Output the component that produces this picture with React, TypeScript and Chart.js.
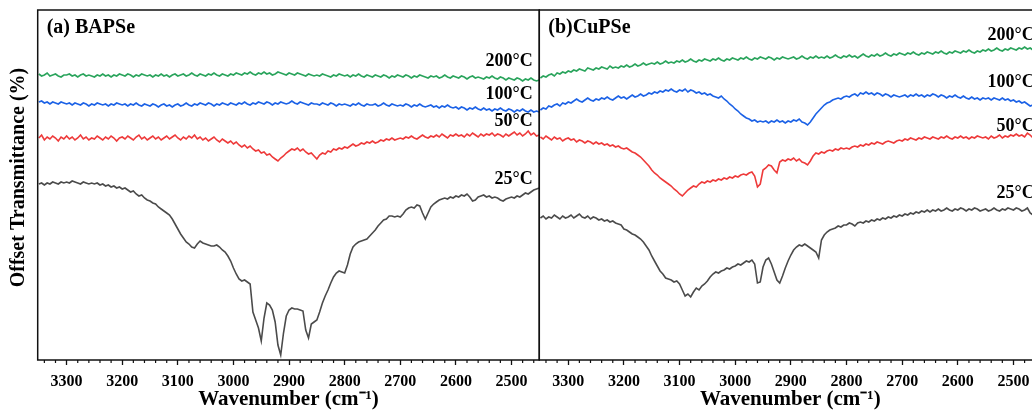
import React, { useEffect, useRef } from "react";
import { Chart, registerables } from "chart.js";

Chart.register(...registerables);

const FONT = "'Liberation Serif', 'Times New Roman', serif";

// Wavenumber grid (cm^-1), shared by every spectrum
const WAVENUMBERS = [
  3350, 3345, 3340, 3335, 3330, 3325, 3320, 3315, 3310, 3305,
  3300, 3295, 3290, 3285, 3280, 3275, 3270, 3265, 3260, 3255,
  3250, 3245, 3240, 3235, 3230, 3225, 3220, 3215, 3210, 3205,
  3200, 3195, 3190, 3185, 3180, 3175, 3170, 3165, 3160, 3155,
  3150, 3145, 3140, 3135, 3130, 3125, 3120, 3115, 3110, 3105,
  3100, 3095, 3090, 3085, 3080, 3075, 3070, 3065, 3060, 3055,
  3050, 3045, 3040, 3035, 3030, 3025, 3020, 3015, 3010, 3005,
  3000, 2995, 2990, 2985, 2980, 2975, 2970, 2965, 2960, 2955,
  2950, 2945, 2940, 2935, 2930, 2925, 2920, 2915, 2910, 2905,
  2900, 2895, 2890, 2885, 2880, 2875, 2870, 2865, 2860, 2855,
  2850, 2845, 2840, 2835, 2830, 2825, 2820, 2815, 2810, 2805,
  2800, 2795, 2790, 2785, 2780, 2775, 2770, 2765, 2760, 2755,
  2750, 2745, 2740, 2735, 2730, 2725, 2720, 2715, 2710, 2705,
  2700, 2695, 2690, 2685, 2680, 2675, 2670, 2665, 2660, 2655,
  2650, 2645, 2640, 2635, 2630, 2625, 2620, 2615, 2610, 2605,
  2600, 2595, 2590, 2585, 2580, 2575, 2570, 2565, 2560, 2555,
  2550, 2545, 2540, 2535, 2530, 2525, 2520, 2515, 2510, 2505,
  2500, 2495, 2490, 2485, 2480, 2475, 2470, 2465, 2460, 2455,
  2450,
];

const X_TICKS = [3300, 3200, 3100, 3000, 2900, 2800, 2700, 2600, 2500];

// (a) BAPSe — offset transmittance (a.u.)
const BAPSE_200 = [
  286, 284, 285, 287, 284, 285, 286, 284, 283, 285,
  285, 286, 284, 285, 283, 285, 286, 284, 285, 284,
  283, 285, 284, 286, 284, 285, 283, 285, 284, 286,
  285, 284, 286, 285, 283, 285, 284, 286, 285, 284,
  285, 283, 285, 284, 286, 284, 285, 283, 285, 286,
  284, 285, 286, 284, 285, 287, 285, 284, 286, 285,
  284, 286, 285, 287, 285, 284, 286, 285, 284, 286,
  285, 287, 286, 285, 287, 286, 288, 286, 285, 287,
  286, 288, 286, 287, 285, 286, 288, 287, 286, 285,
  287, 286, 285, 287, 286, 285, 284, 286, 285, 284,
  285, 284, 286, 285, 284, 283, 285, 284, 286, 285,
  284, 285, 283, 285, 284, 286, 284, 283, 285, 284,
  283, 285, 284, 283, 285, 284, 282, 284, 283, 285,
  284, 283, 285, 284, 282, 284, 283, 285, 284, 283,
  282, 284, 283, 284, 282, 283, 285, 283, 282, 284,
  283, 282, 284, 283, 281, 283, 284, 282, 283, 282,
  281, 283, 282, 284, 282, 281, 283, 282, 280, 282,
  281, 280, 282, 281, 279, 281, 280, 282, 280, 279,
  280,
];
const BAPSE_100 = [
  258, 259, 257, 258, 256, 258, 257, 256, 258, 257,
  256, 257, 255, 257, 256, 255, 257, 256, 254, 256,
  255, 257, 256, 255, 256, 254, 256, 255, 257, 256,
  255, 256, 254, 256, 255, 257, 255, 254, 256, 255,
  254, 256, 255, 253, 255, 256, 254, 255, 253, 255,
  256, 254, 255, 257, 255, 254, 256, 255, 257, 256,
  255, 257, 256, 254, 256, 255, 257, 256, 255, 257,
  256, 255, 257, 256, 258, 256, 255, 257, 256, 258,
  257, 256, 258, 257, 255, 257, 256, 258, 257, 256,
  257, 259, 257, 256, 258, 257, 256, 255, 257, 256,
  256, 255, 257, 256, 255, 257, 256, 254, 256, 255,
  256, 255, 254, 256, 255, 257, 255, 254, 256, 255,
  255, 256, 254, 255, 257, 255, 254, 256, 255, 254,
  255, 254, 256, 255, 253, 255, 254, 256, 254, 253,
  254, 255, 253, 254, 252, 254, 253, 255, 253, 252,
  253, 251, 253, 252, 250, 252, 251, 253, 251, 250,
  252, 250, 251, 249, 251, 250, 252, 250, 249, 251,
  250, 248, 250, 249, 251, 249, 248, 250, 248, 249,
  248,
];
const BAPSE_50 = [
  222, 225, 220, 223, 221, 224, 222, 219, 223, 221,
  224, 221, 223, 220, 222, 225, 221, 223, 220, 222,
  221, 224, 222, 220, 223, 221, 224, 222, 219, 222,
  223, 221, 224, 222, 220, 223, 225, 221, 223, 220,
  222, 224, 221, 223, 220, 222, 224, 221, 223, 225,
  222, 220, 223, 221, 224, 222, 225, 221, 223, 220,
  222, 219, 221, 223, 220, 218, 221, 219, 217, 219,
  216, 218, 215, 213, 215, 212, 214, 211, 209, 210,
  207, 208, 205, 206, 203, 201, 199, 202, 204, 207,
  209, 211, 210, 212, 209, 211, 208, 206, 207, 204,
  201, 205, 207, 206, 209, 208, 211, 210, 212, 211,
  213, 212, 214, 216, 214, 215, 217, 216, 218, 217,
  219, 217, 218, 220, 219, 221, 220, 222, 220, 221,
  222, 221, 223, 222, 224, 222, 221, 223, 225, 223,
  222, 224, 223, 225, 223, 226, 224, 222, 225, 224,
  226, 224, 225, 223, 226, 224, 227, 225, 223, 226,
  224, 226, 225, 227, 224, 226, 225, 223, 226, 224,
  226, 228, 225, 227, 224, 226, 229, 225, 227, 224,
  225,
];
const BAPSE_25 = [
  176, 177, 175, 177, 176, 178, 177, 176, 178, 177,
  178, 177, 179, 178, 177, 176, 178, 177, 176, 177,
  176, 177, 175, 176, 174, 175, 173, 174, 172, 173,
  171, 172, 170, 168, 169, 166, 164, 165, 162, 160,
  159, 157, 156, 153, 151, 149, 147, 145, 141, 136,
  131, 126, 122, 118, 116, 113, 112, 116, 119, 117,
  116, 115, 114, 114, 115, 113, 110, 108, 104, 99,
  92, 86, 81, 79, 80, 78, 76, 48, 40, 32,
  19, 42, 57, 55, 50, 38, 15, 5, 27, 44,
  50, 52, 51, 51, 50, 49, 30, 22, 36, 38,
  40, 48, 57, 64, 70, 77, 83, 87, 89, 88,
  87, 95, 106, 113, 116, 118, 119, 120, 121, 124,
  127, 130, 134, 137, 140, 141, 144, 144, 143, 144,
  143, 146, 150, 152, 153, 152, 155, 154, 147, 141,
  147, 153, 156, 158, 160, 161, 162, 161, 163, 162,
  164, 163, 165, 164, 166, 163, 159, 160, 163, 164,
  165, 163, 164, 162, 163, 162, 160, 159, 161, 162,
  163, 162, 164, 163, 165, 167, 166, 168, 170, 171,
  172,
];

// (b) CuPSe — offset transmittance (a.u.)
const CUPSE_200 = [
  282, 284, 283, 285, 286, 284, 287, 286, 288, 287,
  289, 288, 290, 289, 291, 290, 289, 292, 291, 290,
  292, 291, 293, 292, 291, 294, 292, 293, 292, 294,
  293, 295, 293, 294, 296, 294, 295, 297, 295, 296,
  297, 296, 298, 296, 297, 299, 297, 298, 297, 299,
  298, 300, 298, 299, 301, 299, 298, 300, 299, 301,
  300, 299, 301, 300, 302, 300, 299, 301, 300, 302,
  301, 300, 302, 301, 303, 301, 300, 302, 301, 303,
  302, 301, 303, 302, 300, 302, 301, 303, 302, 301,
  302, 303, 301, 302, 304, 302, 301, 303, 302, 304,
  302, 303, 302, 304, 302, 303, 305, 303, 302, 304,
  303, 305, 303, 304, 302, 304, 306, 304, 303, 305,
  304, 306, 304, 305, 307, 305, 304, 306, 305, 307,
  306, 305, 307, 306, 308, 306, 305, 307, 306, 308,
  307, 306, 308, 307, 309, 307, 306, 308, 307, 309,
  308, 307, 309, 308, 310, 308, 307, 309, 308, 310,
  309, 311, 309, 310, 312, 310, 309, 311, 310, 312,
  311, 310, 312, 311, 313, 311, 312, 310, 311, 309,
  310,
];
const CUPSE_100 = [
  250, 252, 251, 254, 253, 255, 256, 254, 257, 256,
  258, 257, 259, 261, 259, 258, 260, 262, 260, 259,
  261, 260, 262, 261, 263, 261, 260, 262, 264, 262,
  263, 261, 263, 265, 263, 264, 266, 264, 265, 267,
  266, 268, 267, 269, 268, 270, 269, 271, 269, 268,
  270, 269, 271, 268, 270, 269, 267, 268, 266, 267,
  265, 266, 264, 263, 262, 264, 261, 259, 256, 254,
  251, 249, 246, 244, 242, 241, 239, 240, 238, 239,
  238, 239, 237, 239, 238, 240, 238, 239, 237, 239,
  238, 240, 239, 241, 238, 237, 235, 238, 242, 246,
  249, 252, 255, 257, 258, 260, 261, 262, 261, 263,
  264, 263, 265, 266, 264, 267, 266, 268, 266, 267,
  265, 267, 266, 264, 266, 265, 263, 265, 264, 263,
  264, 265, 263, 265, 264, 266, 264, 265, 263, 265,
  264, 266, 265, 263, 265, 264, 262, 264, 263, 265,
  263, 262, 264, 262, 261, 263, 261, 262, 260, 262,
  261, 262, 260, 262, 261, 260, 262, 260, 261, 259,
  260, 258, 259, 257, 258, 256, 254, 255, 253, 252,
  253,
];
const CUPSE_50 = [
  223, 221, 224, 222, 220, 223, 221, 222, 219, 221,
  222, 220, 221, 218, 220, 219, 217, 219, 218, 216,
  218, 216, 217, 215, 216, 214, 215, 213, 214, 212,
  211, 212, 210, 208, 207, 205, 203, 200, 197, 194,
  190, 187, 185, 182, 180, 178, 176, 174, 171, 169,
  166, 164, 167, 170, 172, 174, 173, 176, 178, 177,
  179, 178, 180, 179, 181, 180, 182, 181, 183, 182,
  184, 183, 185, 186, 185, 187, 188, 184, 173, 176,
  190, 192, 195, 194, 190, 187, 198, 200, 199, 201,
  200, 202, 199, 201, 198, 197, 195, 199, 204, 207,
  206, 208, 207, 209, 210, 209, 211, 210, 212, 211,
  212, 211, 213, 214, 213, 215, 214, 216, 215, 217,
  216, 218, 217, 216, 218, 219, 218, 217, 219, 220,
  219, 221, 220, 222, 221, 220, 222, 221, 223, 222,
  221, 223, 222, 221, 223, 222, 224, 222, 221, 223,
  222, 224, 222, 223, 221, 223, 222, 224, 223, 222,
  223, 221, 224, 222, 223, 225, 222, 224, 223, 225,
  224, 226, 224, 225, 223, 227, 225, 222, 220, 219,
  220,
];
const CUPSE_25 = [
  142, 144, 141, 143, 142, 145, 143, 141, 144, 142,
  143, 145, 142, 144, 146, 143, 142, 144, 141, 143,
  142, 140, 141, 139, 140, 138, 139, 137, 136, 135,
  131, 130, 128, 126, 125, 123, 121, 118, 114, 110,
  104, 99, 94, 89, 86, 82, 81, 80, 78, 79,
  76, 70, 64, 66, 63, 68, 72, 70, 74, 76,
  79, 83, 86, 88, 87, 89, 90, 92, 91, 93,
  94, 96, 95, 97, 99, 98, 100, 96, 77, 78,
  93, 100, 102, 96, 88, 80, 77, 84, 92, 99,
  105, 110, 113, 115, 114, 116, 114, 112, 110, 108,
  102, 120, 125, 128, 130, 131, 132, 134, 133, 135,
  135, 137, 136, 134, 137, 138, 137, 139, 138, 140,
  139, 141, 140, 142, 141, 143, 142, 144, 143, 145,
  144, 146, 145, 147, 146, 148, 147, 149, 148, 150,
  148, 150, 149, 151, 149, 150, 152, 150, 149, 151,
  150, 152, 151, 149, 151, 150, 152, 151, 149, 150,
  151, 149, 150, 152, 150, 149, 151, 150, 152, 151,
  150, 152, 151, 149, 150, 152, 147, 145, 144, 143,
  143,
];

const TEMPS = ["200°C", "100°C", "50°C", "25°C"];
const COLORS = ["#2aa45c", "#1c62e6", "#ee3a3a", "#4b4b4b"];

// Curve-label anchor heights (in data units) for each panel
const LABEL_Y_A = [298.5, 266, 239, 181];
const LABEL_Y_B = [324.5, 277.5, 233.5, 167];

const decorPlugin = {
  id: "decor",
  afterDatasetsDraw(chart: any, _args: any, opts: any) {
    const { ctx, chartArea: a, scales } = chart;
    const xs = scales.x;
    const ys = scales.y;
    ctx.save();
    ctx.strokeStyle = "#111";
    ctx.lineWidth = 1.5;
    ctx.strokeRect(a.left, a.top, a.right - a.left, a.bottom - a.top);
    ctx.lineWidth = 1.2;
    for (let v = xs.min; v <= xs.max; v += 20) {
      const r = Math.ceil(v / 20) * 20;
      if (r % 100 === 0 || r > xs.max) continue;
      const px = xs.getPixelForValue(r);
      ctx.beginPath();
      ctx.moveTo(px, a.bottom);
      ctx.lineTo(px, a.bottom + 3);
      ctx.stroke();
    }
    ctx.fillStyle = "#000";
    ctx.font = `bold 20px ${FONT}`;
    ctx.textAlign = "left";
    ctx.textBaseline = "alphabetic";
    ctx.fillText(opts.title, a.left + 9, a.top + 23);
    ctx.font = `bold 18px ${FONT}`;
    ctx.textAlign = "right";
    ctx.textBaseline = "middle";
    opts.labels.forEach((text: string, i: number) => {
      ctx.fillText(text, a.right - 6.5, ys.getPixelForValue(opts.labelY[i]));
    });
    ctx.restore();
  },
};

function makeChart(
  canvas: HTMLCanvasElement,
  series: number[][],
  title: string,
  labelY: number[],
  yWidth: number,
  padRight: number,
  showYTitle: boolean
) {
  return new Chart(canvas, {
    type: "line",
    data: {
      datasets: series.map((vals, i) => ({
        label: TEMPS[i],
        data: vals.map((v, j) => ({ x: WAVENUMBERS[j], y: v })),
        borderColor: COLORS[i],
        borderWidth: 1.6,
        pointRadius: 0,
        fill: false,
        tension: 0,
      })),
    },
    options: {
      animation: false,
      responsive: false,
      devicePixelRatio: 1,
      layout: { padding: { top: 10, left: 0, right: padRight, bottom: 0 } },
      plugins: {
        legend: { display: false },
        tooltip: { enabled: false },
        decor: { title, labels: TEMPS, labelY },
      } as any,
      scales: {
        x: {
          type: "linear",
          reverse: true,
          min: 2450,
          max: 3352,
          afterBuildTicks: (scale: any) => {
            scale.ticks = X_TICKS.map((v) => ({ value: v }));
          },
          afterFit: (scale: any) => {
            scale.height = 52;
          },
          ticks: {
            color: "#000",
            font: { family: FONT, size: 16, weight: "bold" },
            padding: 7,
            maxRotation: 0,
            autoSkip: false,
            callback: (v: any) => String(v),
          },
          grid: {
            display: true,
            drawOnChartArea: false,
            drawTicks: true,
            tickLength: 5,
            tickColor: "#111",
            tickWidth: 1.3,
          },
          border: { display: false },
          title: {
            display: true,
            text: "Wavenumber (cm⁻¹)",
            color: "#000",
            font: { family: FONT, size: 21, weight: "bold" },
            padding: { top: 0, bottom: 0 },
          },
        },
        y: {
          type: "linear",
          min: 0,
          max: 350,
          afterFit: (scale: any) => {
            scale.width = yWidth;
          },
          ticks: { display: false },
          grid: { display: false },
          border: { display: false },
          title: {
            display: showYTitle,
            text: "\u00a0\u00a0\u00a0Offset Transmittance (%)",
            color: "#000",
            font: { family: FONT, size: 20, weight: "bold" },
            padding: { top: 7, bottom: 0 },
          },
        },
      },
    },
    plugins: [decorPlugin as any],
  });
}

export default function App() {
  const leftRef = useRef<HTMLCanvasElement>(null);
  const rightRef = useRef<HTMLCanvasElement>(null);

  useEffect(() => {
    const left = makeChart(
      leftRef.current!,
      [BAPSE_200, BAPSE_100, BAPSE_50, BAPSE_25],
      "(a) BAPSe",
      LABEL_Y_A,
      37.7,
      0.7,
      true
    );
    const right = makeChart(
      rightRef.current!,
      [CUPSE_200, CUPSE_100, CUPSE_50, CUPSE_25],
      "(b)CuPSe",
      LABEL_Y_B,
      39.3,
      18.7,
      false
    );
    return () => {
      left.destroy();
      right.destroy();
    };
  }, []);

  return (
    <div
      style={{
        position: "fixed",
        left: 0,
        top: 0,
        width: 1032,
        height: 412,
        overflow: "hidden",
        background: "#fff",
      }}
    >
      <canvas
        ref={leftRef}
        width={540}
        height={412}
        style={{ position: "absolute", left: 0, top: 0 }}
      />
      <canvas
        ref={rightRef}
        width={560}
        height={412}
        style={{ position: "absolute", left: 500, top: 0 }}
      />
    </div>
  );
}
